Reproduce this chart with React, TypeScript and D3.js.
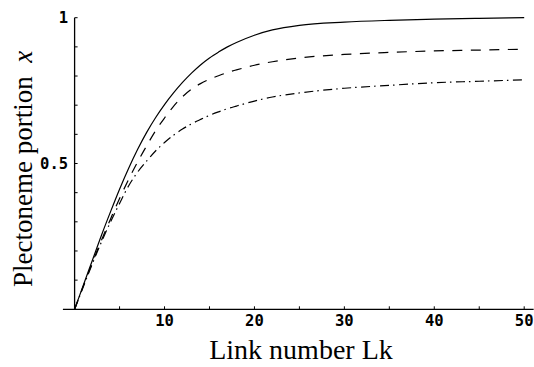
import React from "react";
import * as d3 from "d3";

const lk = [0, 1, 2, 3, 4, 5, 6, 7, 8, 9, 10, 11, 12, 13, 14, 15, 16, 17, 18, 20, 22, 25, 30, 35, 40, 45, 50];
const solid = [0, 0.085, 0.17, 0.255, 0.335, 0.412, 0.483, 0.548, 0.606, 0.657, 0.702, 0.742, 0.778, 0.81, 0.838, 0.862, 0.882, 0.9, 0.915, 0.94, 0.958, 0.974, 0.985, 0.991, 0.995, 0.998, 1.0];
const dashed = [0, 0.082, 0.162, 0.238, 0.31, 0.38, 0.445, 0.505, 0.56, 0.612, 0.656, 0.696, 0.729, 0.755, 0.774, 0.789, 0.801, 0.812, 0.821, 0.837, 0.849, 0.862, 0.874, 0.881, 0.886, 0.889, 0.892];
const dashDot = [0, 0.08, 0.158, 0.232, 0.3, 0.363, 0.423, 0.47, 0.508, 0.543, 0.572, 0.597, 0.618, 0.636, 0.651, 0.665, 0.677, 0.688, 0.697, 0.714, 0.728, 0.742, 0.758, 0.768, 0.777, 0.782, 0.787];

const xMajor = [10, 20, 30, 40, 50];
const xMinor = [5, 15, 25, 35, 45];
const yMajor = [0.5, 1];
const yMinor = [0.1, 0.2, 0.3, 0.4, 0.6, 0.7, 0.8, 0.9];
const yLabels = ["0.5", "1"];

const W = 534;
const H = 367;

export default function App() {
  const x = d3.scaleLinear().domain([0, 50]).range([74.6, 524.2]);
  const y = d3.scaleLinear().domain([0, 1]).range([309.3, 17.7]);
  const line = d3
    .line<number>()
    .x((_, i) => x(lk[i]))
    .y((d) => y(d))
    .curve(d3.curveMonotoneX);

  const series = [
    { vals: solid, dash: undefined },
    { vals: dashed, dash: "10,8.5" },
    { vals: dashDot, dash: "9,4,1.5,4.5" },
  ];

  const monoFont = "'DejaVu Sans Mono', monospace";
  const serifFont = "'Liberation Serif', 'Times New Roman', serif";

  return (
    <svg
      width={W}
      height={H}
      style={{ position: "absolute", left: 0, top: 0, background: "#fff" }}
    >
      <rect x={0} y={0} width={W} height={H} fill="#fff" />
      <line x1={x(-1.3)} x2={x(51.05)} y1={y(0)} y2={y(0)} stroke="#000" strokeWidth={1.3} />
      <line x1={x(0)} x2={x(0)} y1={y(0)} y2={y(1)} stroke="#000" strokeWidth={1.3} />
      {xMajor.concat(xMinor).map((t) => (
        <line key={"xt" + t} x1={x(t)} x2={x(t)} y1={y(0)} y2={y(0) - 3} stroke="#000" strokeWidth={1} />
      ))}
      {yMajor.concat(yMinor).map((t) => (
        <line key={"yt" + t} x1={x(0)} x2={x(0) + 3} y1={y(t)} y2={y(t)} stroke="#000" strokeWidth={1} />
      ))}
      {xMajor.map((t) => (
        <text
          key={"xl" + t}
          x={x(t)}
          y={y(0) + 17}
          textAnchor="middle"
          fontFamily={monoFont}
          fontWeight="bold"
          fontSize={15.5}
          fill="#000"
        >
          {t}
        </text>
      ))}
      {yMajor.map((t, i) => (
        <text
          key={"yl" + t}
          x={x(0) - 6.5}
          y={y(t) + 5.5}
          textAnchor="end"
          fontFamily={monoFont}
          fontWeight="bold"
          fontSize={15.5}
          fill="#000"
        >
          {yLabels[i]}
        </text>
      ))}
      {series.map((s, i) => (
        <path
          key={"s" + i}
          d={line(s.vals) || ""}
          fill="none"
          stroke="#000"
          strokeWidth={1.2}
          strokeDasharray={s.dash}
        />
      ))}
      <text
        x={301}
        y={359}
        textAnchor="middle"
        fontFamily={serifFont}
        fontSize={28}
        fill="#000"
      >
        Link number Lk
      </text>
      <text
        transform="translate(32,287) rotate(-90)"
        textAnchor="start"
        fontFamily={serifFont}
        fontSize={27}
        fill="#000"
        style={{ whiteSpace: "pre" }}
      >
        {"Plectoneme portion  "}
        <tspan fontStyle="italic">x</tspan>
      </text>
    </svg>
  );
}
